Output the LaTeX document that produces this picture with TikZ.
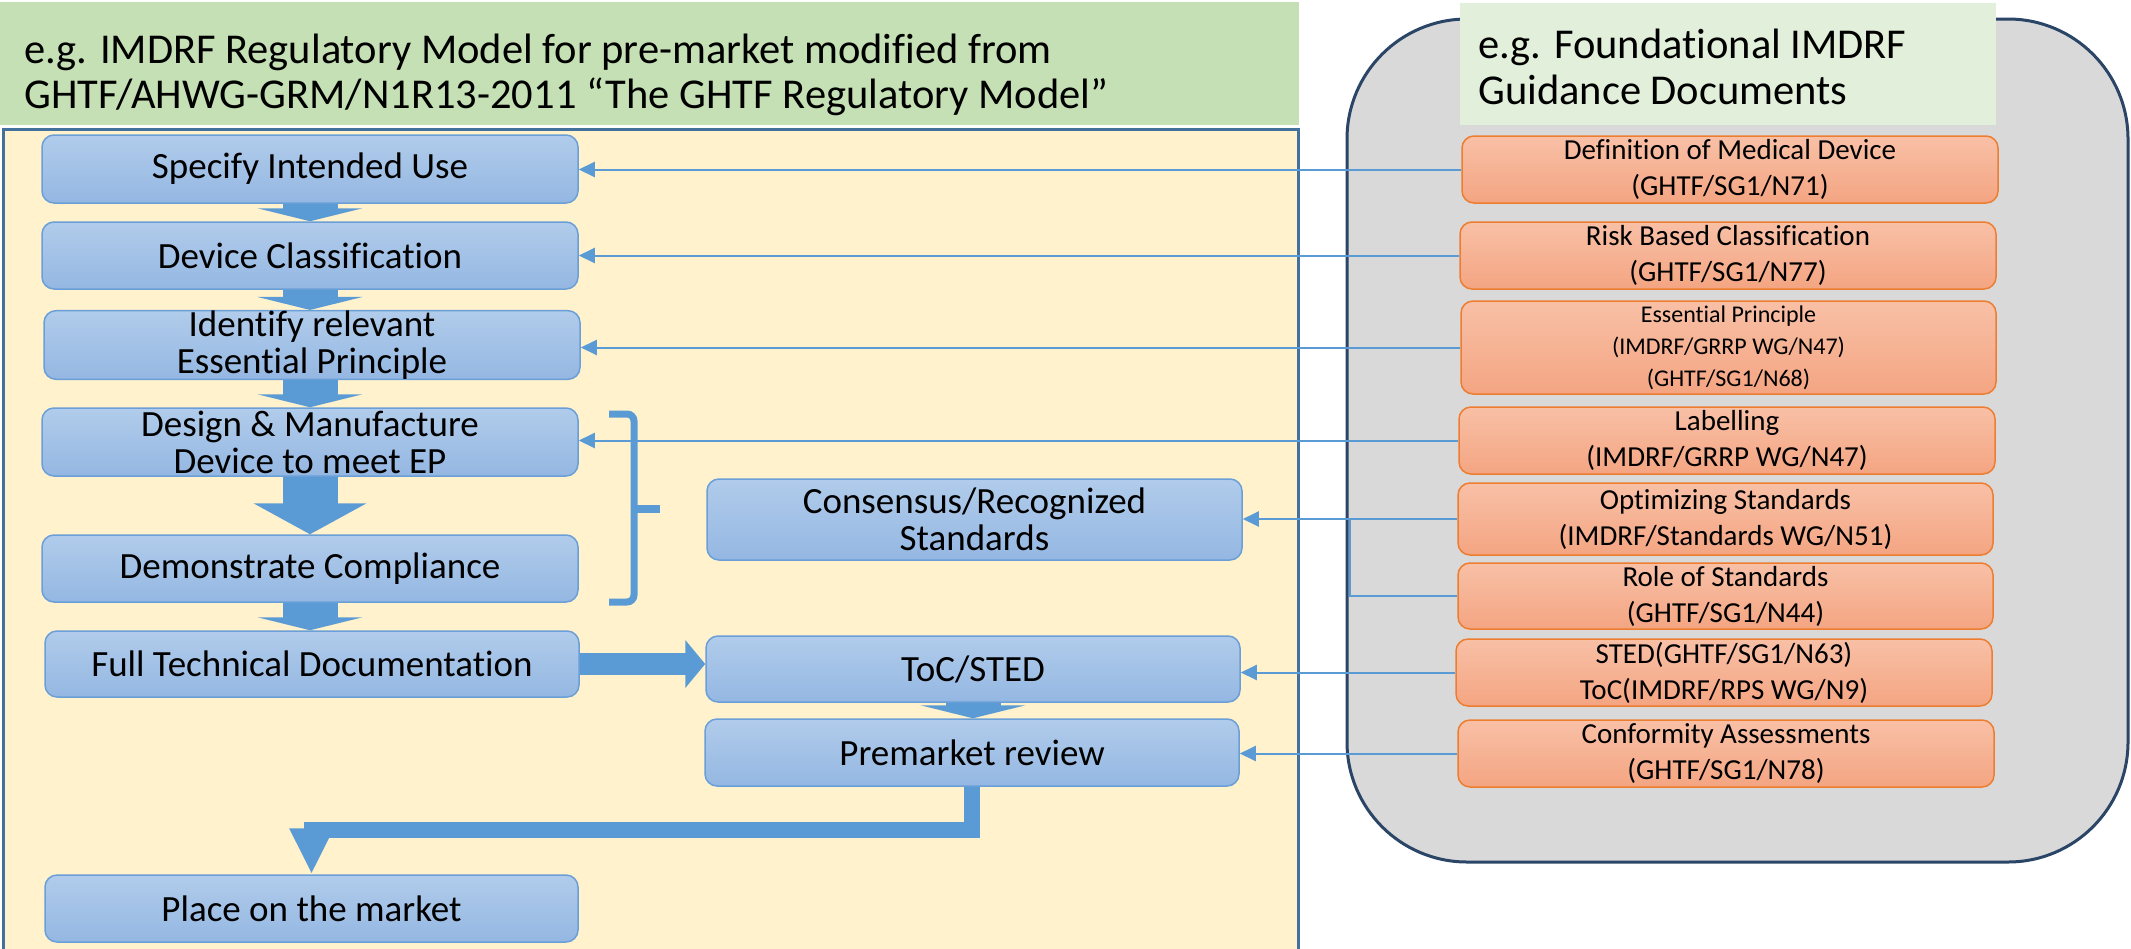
\documentclass[tikz,border=0pt]{standalone}
\usepackage{fontspec}
\setmainfont[Ligatures=NoCommon]{Carlito}
\usetikzlibrary{arrows.meta}
\definecolor{titlegreen}{HTML}{C5E0B4}
\definecolor{titlegreenlight}{HTML}{E2EFDA}
\definecolor{panelyellow}{HTML}{FFF2CC}
\definecolor{panelborder}{HTML}{41719C}
\definecolor{graybg}{HTML}{D9D9D9}
\definecolor{grayborder}{HTML}{2A4565}
\definecolor{bluetop}{HTML}{B1CCEB}
\definecolor{bluebot}{HTML}{94B7E2}
\definecolor{blueborder}{HTML}{6A9FD8}
\definecolor{arrowblue}{HTML}{5B9BD5}
\definecolor{orangetop}{HTML}{F8C0A6}
\definecolor{orangebot}{HTML}{F4A582}
\definecolor{orangeborder}{HTML}{ED7D31}
\begin{document}
\begin{tikzpicture}[x=1pt,y=-1pt,
  bluebox/.style={rounded corners=12pt, draw=blueborder, line width=1.5pt,
    top color=bluetop, bottom color=bluebot, minimum width=536pt, minimum height=67pt,
    align=center, inner sep=0pt, font=\fontsize{37}{37}\selectfont},
  orangebox/.style={rounded corners=12pt, draw=orangeborder, line width=1.5pt,
    top color=orangetop, bottom color=orangebot, minimum width=536pt, minimum height=67pt,
    align=center, inner sep=0pt, font=\fontsize{29}{36}\selectfont},
  titletext/.style={anchor=base west, inner sep=0pt, font=\fontsize{42.5}{46}\selectfont},
  conn/.style={draw=arrowblue, line width=2pt, -{Triangle[length=16pt,width=15pt]}},
  plainconn/.style={draw=arrowblue, line width=2pt},
  downblock/.style={draw=arrowblue, line width=55pt, -{Triangle[length=13pt,width=105pt]}},
  bigdownblock/.style={draw=arrowblue, line width=55pt, -{Triangle[length=31pt,width=112pt]}},
  rightblock/.style={draw=arrowblue, line width=22pt, -{Triangle[length=20pt,width=47pt]}},
  bentblock/.style={draw=arrowblue, line width=16pt, line join=miter, -{Triangle[length=46pt,width=41pt]}},
  bracestyle/.style={draw=arrowblue, line width=7pt, rounded corners=7pt}]
\useasboundingbox (0,0) rectangle (2131,948);
\clip (0,0) rectangle (2131,948);

% backgrounds
\path[fill=titlegreen] (0,2) rectangle (1299,125);
\path[fill=panelyellow, draw=panelborder, line width=3pt] (3,129) rectangle (1298,960);
\path[fill=graybg, draw=grayborder, line width=3pt, rounded corners=120pt] (1347,19) rectangle (2128,862);
\path[fill=titlegreenlight] (1460,3) rectangle (1996,125);

% titles
\node[titletext] (t1a) at (24,63) {e.g. IMDRF Regulatory Model for pre-market modified from};
\node[titletext] (t1b) at (24,108) {GHTF/AHWG-GRM/N1R13-2011 “The GHTF Regulatory Model”};
\node[titletext] (t2a) at (1478,58) {e.g. Foundational IMDRF};
\node[titletext] (t2b) at (1478,104) {Guidance Documents};

% left flow boxes
\node[bluebox, minimum height=68pt] (spec) at (310,169) {Specify Intended Use};
\node[bluebox] (devc) at (310,255.5) {Device Classification};
\node[bluebox, minimum height=66pt] (ident) at (312,345) {Identify relevant\\Essential Principle};
\node[bluebox, minimum height=68pt] (design) at (310,442) {Design \& Manufacture\\Device to meet EP};
\node[bluebox] (demo) at (310,568.5) {Demonstrate Compliance};
\node[bluebox, minimum width=534pt, minimum height=66pt] (ftd) at (312,664) {Full Technical Documentation};
\node[bluebox, minimum width=533pt] (place) at (311.5,908.5) {Place on the market};
\node[bluebox, minimum width=535pt, minimum height=81pt] (cons) at (974.5,519.5) {Consensus/Recognized\\Standards};
\node[bluebox, minimum width=534pt, minimum height=66pt] (toc) at (973,669) {ToC/STED};
\node[bluebox, minimum width=534pt] (prem) at (972,752.5) {Premarket review};

% orange guidance boxes
\node[orangebox] (o1) at (1730,169.5) {Definition of Medical Device\\(GHTF/SG1/N71)};
\node[orangebox] (o2) at (1728,255.5) {Risk Based Classification\\(GHTF/SG1/N77)};
\node[orangebox, minimum width=535pt, minimum height=93pt, font=\fontsize{24}{32}\selectfont] (o3) at (1728.5,347.5) {Essential Principle\\(IMDRF/GRRP WG/N47)\\(GHTF/SG1/N68)};
\node[orangebox] (o4) at (1727,440.5) {Labelling\\(IMDRF/GRRP WG/N47)};
\node[orangebox, minimum width=535pt, minimum height=72pt] (o5) at (1725.5,519) {Optimizing Standards\\(IMDRF/Standards WG/N51)};
\node[orangebox, minimum width=535pt, minimum height=66pt] (o6) at (1725.5,596) {Role of Standards\\(GHTF/SG1/N44)};
\node[orangebox] (o7) at (1724,672.5) {STED(GHTF/SG1/N63)\\ToC(IMDRF/RPS WG/N9)};
\node[orangebox] (o8) at (1726,753.5) {Conformity Assessments\\(GHTF/SG1/N78)};

% block arrows of the flow
\draw[downblock] (spec.south) -- (devc.north);
\draw[downblock] (devc.south) -- (ident.north -| devc.south);
\draw[downblock] (ident.south -| spec.south) -- (design.north);
\draw[bigdownblock] (design.south) -- (demo.north);
\draw[downblock] (demo.south) -- (ftd.north -| demo.south);
\draw[rightblock] (ftd.east) -- (toc.west |- ftd.east);
\draw[downblock] (toc.south) -- (prem.north -| toc.south);
\coordinate (bend) at (311.5,830);
\draw[bentblock] (prem.south) |- (bend) -- (place.north);

% brace
\coordinate (brtop) at (609,414);
\coordinate (brbot) at (609,602);
\coordinate (brtip) at (660,509);
\draw[bracestyle] (brtop) -- (634,414) -- (634,602) -- (brbot);
\draw[draw=arrowblue, line width=8pt] (634,509) -- (brtip);

% guidance connectors
\draw[conn] (o1.west) -- (o1.west -| spec.east);
\draw[conn] (o2.west) -- (o2.west -| devc.east);
\draw[conn] (o3.west) -- (o3.west -| ident.east);
\draw[conn] (o4.west) -- (o4.west -| design.east);
\draw[conn] (o5.west) -- (o5.west -| cons.east);
\coordinate (join) at (1350,519);
\draw[plainconn] (o6.west) -| (join);
\draw[conn] (o7.west) -- (o7.west -| toc.east);
\draw[conn] (o8.west) -- (o8.west -| prem.east);
\end{tikzpicture}
\end{document}
